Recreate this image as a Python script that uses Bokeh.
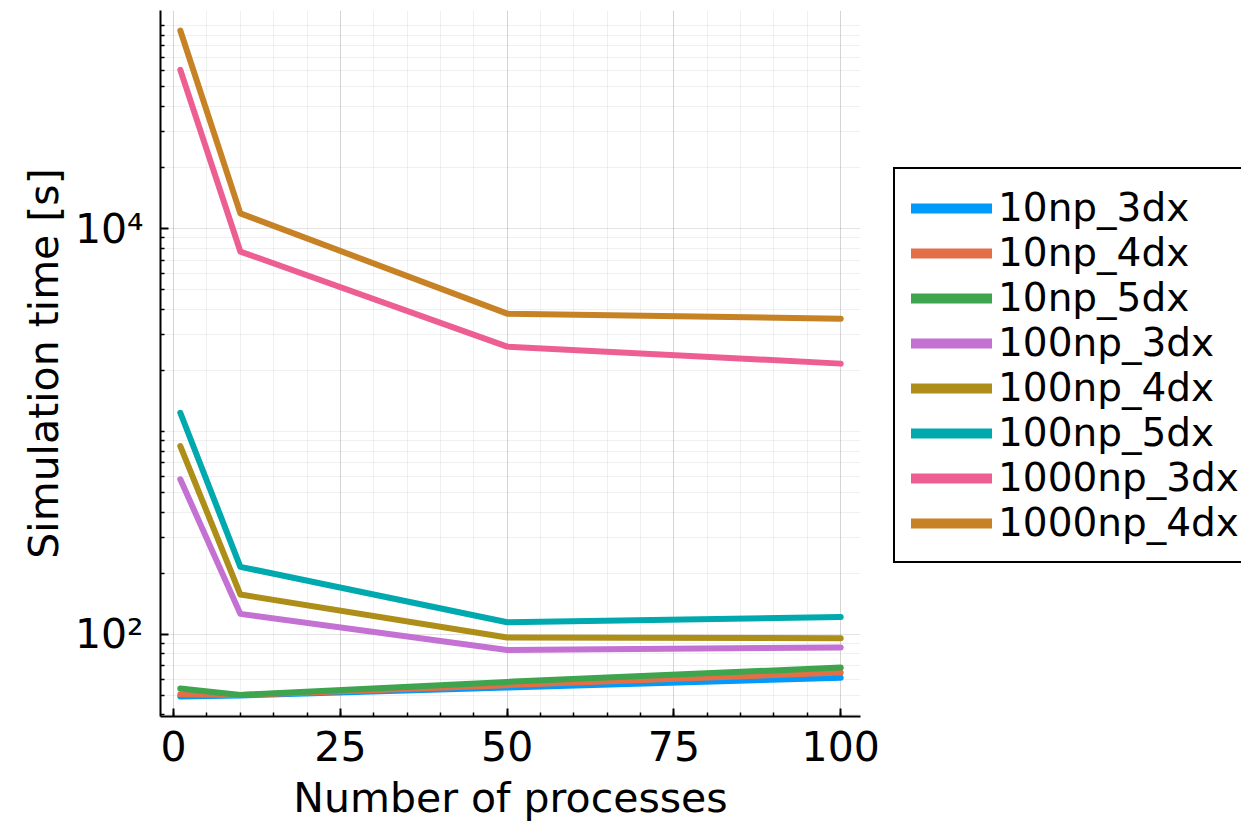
import math
from bokeh.plotting import figure
from bokeh.layouts import row
from bokeh.models import (Range1d, FixedTicker, SingleIntervalTicker, Legend, LegendItem, Title)
from bokeh.embed import file_html
from bokeh.resources import INLINE

# ---- data ----
processes = [1, 10, 50, 100]
series_names = ["10np_3dx", "10np_4dx", "10np_5dx", "100np_3dx", "100np_4dx",
                "100np_5dx", "1000np_3dx", "1000np_4dx"]
np10_3dx = [49.3, 49.9, 54.6, 61.0]
np10_4dx = [50.6, 50.2, 56.1, 64.7]
np10_5dx = [54.0, 50.2, 58.2, 68.5]
np100_3dx = [581, 126, 83.7, 86.0]
np100_4dx = [847, 157, 96.3, 95.6]
np100_5dx = [1236, 215, 114.6, 121.7]
np1000_3dx = [60700, 7710, 2620, 2160]
np1000_4dx = [94900, 11900, 3810, 3600]
series_values = [np10_3dx, np10_4dx, np10_5dx, np100_3dx, np100_4dx,
                 np100_5dx, np1000_3dx, np1000_4dx]
colors = ["#009AFA", "#E36F47", "#3EA44E", "#C371D2", "#AC8E18",
          "#00A9AD", "#ED5E93", "#C68225"]
y_major_ticks = [100, 10000]
y_tick_labels = {100: "10\u00b2", 10000: "10\u2074"}
x_label = "Number of processes"
y_label = "Simulation time [s]"

FONT = "DejaVu Sans"

# ranges with 3% padding (log space for y)
xmin, xmax = min(processes), max(processes)
xpad = 0.03 * (xmax - xmin)
allv = [v for s in series_values for v in s]
lmin, lmax = math.log10(min(allv)), math.log10(max(allv))
lpad = 0.03 * (lmax - lmin)

p = figure(width=880, height=825, y_axis_type="log",
           x_range=Range1d(xmin - xpad, xmax + xpad),
           y_range=Range1d(10 ** (lmin - lpad), 10 ** (lmax + lpad)),
           output_backend="svg", toolbar_location=None,
           min_border_left=160, min_border_right=20, min_border_top=10, min_border_bottom=109)
p.outline_line_color = None
p.background_fill_color = "white"
p.border_fill_color = "white"

# ticks
minor = [k * 10 ** e for e in range(1, 6) for k in range(1, 10) if k * 10 ** e not in y_major_ticks]
yt = FixedTicker(ticks=y_major_ticks, minor_ticks=minor)
p.yaxis.ticker = yt
p.ygrid.ticker = yt
xt = SingleIntervalTicker(interval=25, num_minor_ticks=5)
p.xaxis.ticker = xt
p.xgrid.ticker = xt
p.yaxis.major_label_overrides = y_tick_labels

for ax in (p.xaxis, p.yaxis):
    ax.axis_line_color = "black"
    ax.axis_line_width = 2
    ax.major_tick_line_color = "black"
    ax.major_tick_line_width = 2
    ax.minor_tick_line_color = "black"
    ax.minor_tick_line_width = 1.5
    ax.major_tick_in = 8
    ax.major_tick_out = 0
    ax.minor_tick_in = 4
    ax.minor_tick_out = 0
    ax.major_label_text_font = FONT
    ax.major_label_text_font_size = "41px"
    ax.major_label_text_color = "black"
    ax.axis_label_text_font = FONT
    ax.axis_label_text_font_size = "41px"
    ax.axis_label_text_font_style = "normal"
    ax.axis_label_text_color = "black"

p.xaxis.axis_label = x_label
p.xaxis.major_label_standoff = 14
p.xaxis.axis_label_standoff = 10
p.yaxis.major_label_standoff = 17

# y label as a side title so it can be shifted slightly upward like the reference
ytitle = Title(text=y_label, align="center", offset=16, standoff=8,
               text_font=FONT, text_font_size="41px", text_font_style="normal",
               text_color="black")
p.add_layout(ytitle, "left")

for g in (p.xgrid, p.ygrid):
    g.grid_line_color = "black"
    g.grid_line_alpha = 0.11
    g.grid_line_width = 1
    g.minor_grid_line_color = "black"
    g.minor_grid_line_alpha = 0.06
    g.minor_grid_line_width = 1

for vals, c in zip(series_values, colors):
    p.line(processes, vals, line_color=c, line_width=6,
           line_cap="round", line_join="round")

# legend panel to the right of the plot
p2 = figure(width=361, height=825, x_range=Range1d(-1, 0), y_range=Range1d(-1, 0),
            output_backend="svg", toolbar_location=None,
            x_axis_location=None, y_axis_location=None, min_border=0)
p2.outline_line_color = None
p2.grid.visible = False
p2.background_fill_color = "white"
p2.border_fill_color = "white"

items = []
for name, vals, c in zip(series_names, series_values, colors):
    # legend key renderers; their data lies outside this panel's ranges
    key = p2.line(processes, vals, line_color=c, line_width=10, line_cap="round")
    items.append(LegendItem(label=name, renderers=[key]))

legend = Legend(items=items, location=(13, 153))
legend.label_text_font = FONT
legend.label_text_font_size = "39px"
legend.label_text_color = "black"
legend.glyph_width = 81
legend.glyph_height = 40
legend.label_height = 40
legend.label_standoff = 6
legend.spacing = 0
legend.padding = 16
legend.margin = 0
legend.border_line_color = "black"
legend.border_line_alpha = 1.0
legend.border_line_width = 2
legend.background_fill_color = "white"
legend.background_fill_alpha = 1.0
p2.add_layout(legend, "center")

layout = row(p, p2, spacing=0)
open("out.html", "w").write(file_html(layout, INLINE))
